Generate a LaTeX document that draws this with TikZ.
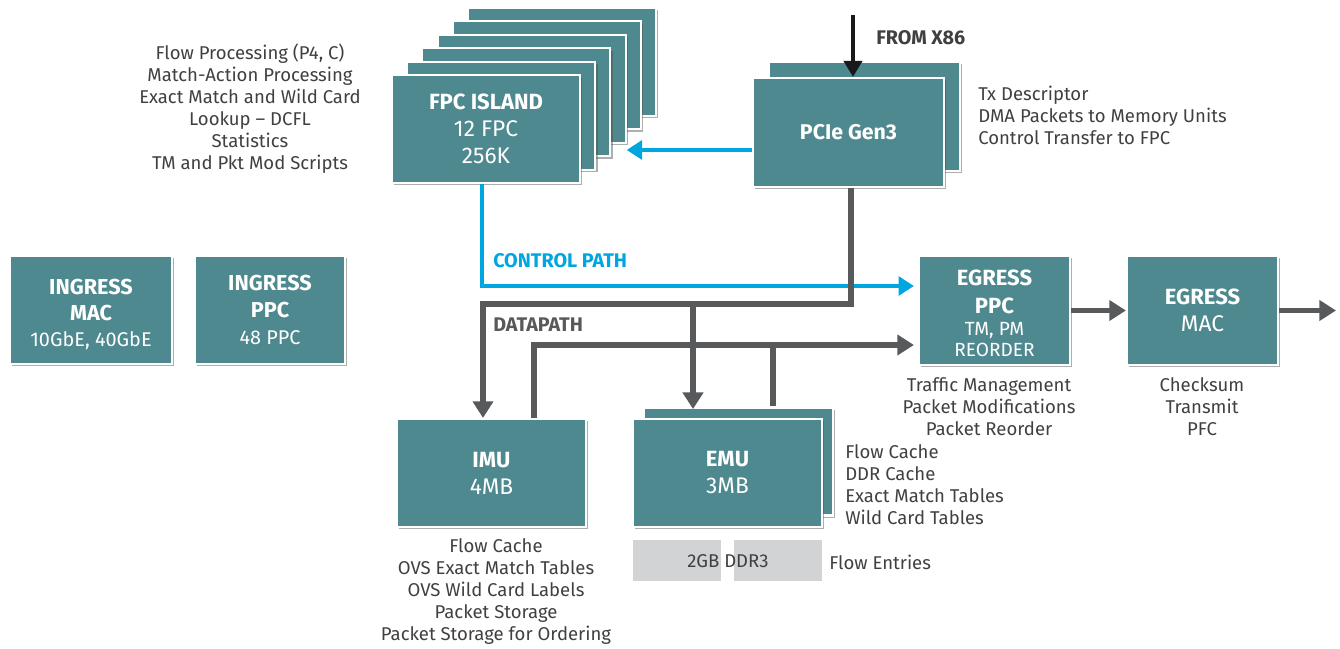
\documentclass[tikz,border=0pt]{standalone}
\usepackage{fontspec}
\setmainfont{Fira Sans}
\usetikzlibrary{shadows,arrows.meta}

\definecolor{boxteal}{RGB}{79,137,144}
\definecolor{pathgray}{RGB}{88,89,91}
\definecolor{ctrlblue}{RGB}{0,166,224}
\definecolor{bodytext}{RGB}{64,64,66}
\definecolor{memgray}{RGB}{209,211,212}

\newcommand\subline[1]{{\fontsize{17}{20}\selectfont #1}}

\tikzset{
  unit/.style={draw=white, line width=1.6pt, fill=boxteal, text=white,
    align=center, inner sep=0pt,
    font=\fontsize{16.5}{20.25}\selectfont,
    drop shadow={shadow xshift=1.8pt, shadow yshift=-1.8pt, opacity=0.45, fill=black!70}},
  unittext/.style={text=white, align=center, inner sep=0pt},
  wide/.style={minimum width=141pt, minimum height=81pt},
  memchip/.style={fill=memgray, draw=none, minimum width=66pt, minimum height=30.75pt, inner sep=0pt},
  notes/.style={text=bodytext, inner sep=0pt, font=\fontsize{13.9}{16.5}\selectfont},
  tag/.style={inner sep=0pt, font=\fontsize{14.8}{17}\selectfont\bfseries},
  datapath/.style={draw=pathgray, line width=3.9pt, line join=miter,
    -{Triangle[length=12.5pt, width=15pt]}},
  datawire/.style={draw=pathgray, line width=3.9pt, line join=miter},
  ctrlpath/.style={draw=ctrlblue, line width=3.4pt, line join=miter,
    -{Triangle[length=11.5pt, width=14pt]}},
  hostpath/.style={draw=black!90, line width=3.2pt,
    -{Triangle[length=12pt, width=13.5pt]}}
}

\begin{document}
\begin{tikzpicture}[x=0.75pt, y=-0.75pt]
\useasboundingbox (0,0) rectangle (1340,649);

% ---- ingress side ----
\node[unit, minimum width=121.5pt, minimum height=81pt] (imac) at (91,310) {};
\node[unittext, font=\fontsize{16.2}{19.5}\selectfont] (imactext) at (91,314)
  {\textbf{INGRESS}\\\textbf{MAC}\\{\fontsize{14.9}{17}\selectfont 10GbE, 40GbE}};
\node[unit, minimum width=112.5pt, minimum height=81pt, font=\fontsize{16.2}{20.5}\selectfont] (ippc) at (270,310)
  {\textbf{INGRESS}\\\textbf{PPC}\\{\fontsize{14.9}{19.5}\selectfont 48 PPC}};

% ---- FPC island stack (back to front) ----
\node[unit, wide] (fpc5) at (562,62) {};
\node[unit, wide] (fpc4) at (546.8,75.4) {};
\node[unit, wide] (fpc3) at (531.6,88.8) {};
\node[unit, wide] (fpc2) at (516.4,102.2) {};
\node[unit, wide] (fpc1) at (501.2,115.6) {};
\node[unit, wide] (fpc) at (486,129)
  {\textbf{FPC ISLAND}\\\subline{12 FPC}\\\subline{256K}};

\node[notes, align=center] (fpcnotes) at (250,108.5)
  {Flow Processing (P4, C)\\Match-Action Processing\\Exact Match and Wild Card\\
   Lookup -- DCFL\\Statistics\\TM and Pkt Mod Scripts};

% ---- PCIe ----
\node[unit, minimum width=143.25pt, minimum height=81.75pt] (pcieback) at (864.5,116.5) {};
\node[unit, minimum width=143.25pt, minimum height=81.75pt, font=\fontsize{16}{20}\selectfont] (pcie) at (848.5,132.5)
  {\textbf{PCIe Gen3}};
\node[notes, align=left, anchor=west] (pcienotes) at (978,115)
  {Tx Descriptor\\DMA Packets to Memory Units\\Control Transfer to FPC};
\node[tag, text=bodytext, anchor=west] (x86label) at (876,38) {FROM X86};

% ---- egress side ----
\node[unit, minimum width=113.25pt, minimum height=81.75pt] (eppc) at (994.5,310.5) {};
\node[unittext, font=\fontsize{16.5}{20.25}\selectfont] (eppctext) at (994.5,313.5)
  {\textbf{EGRESS}\\[0.5pt]\textbf{PPC}\\[-3.5pt]{\fontsize{14.3}{16.5}\selectfont TM, PM}\\[-4.5pt]{\fontsize{14.3}{16.5}\selectfont REORDER}};
\node[unit, minimum width=113.25pt, minimum height=81.75pt] (emac) at (1202.5,310.5)
  {\textbf{EGRESS}\\\subline{MAC}};
\node[notes, align=center] (eppcnotes) at (989,407)
  {Traffic Management\\Packet Modifications\\Packet Reorder};
\node[notes, align=center] (emacnotes) at (1202,407)
  {Checksum\\Transmit\\PFC};

% ---- memory units ----
\node[unit, minimum width=141.75pt, minimum height=81pt] (imu) at (491.5,473)
  {\textbf{IMU}\\\subline{4MB}};
\node[notes, align=center] (imunotes) at (496,591.5)
  {Flow Cache\\OVS Exact Match Tables\\OVS Wild Card Labels\\Packet Storage\\Packet Storage for Ordering};

\node[unit, minimum width=141.75pt, minimum height=81pt] (emuback) at (738.5,461.5) {};
\node[unit, minimum width=141.75pt, minimum height=81pt] (emu) at (727.5,473)
  {\textbf{EMU}\\\subline{3MB}};
\node[notes, align=left, anchor=west] (emunotes) at (845,484.5)
  {Flow Cache\\DDR Cache\\Exact Match Tables\\Wild Card Tables};

\node[memchip] (ddr1) at (677,560.5) {};
\node[memchip] (ddr2) at (778,560.5) {};
\node[notes] (ddrlabel) at (728,561) {2GB DDR3};
\node[notes, anchor=west] (flowentries) at (829,562) {Flow Entries};

% ---- path labels ----
\node[tag, text=ctrlblue, anchor=west] (ctrllabel) at (493,261) {CONTROL PATH};
\node[tag, text=pathgray, anchor=west] (datalabel) at (493,325) {DATAPATH};

% ---- helper points ----
\coordinate (x86) at (853,15);
\coordinate (fpcin) at (750,150);
\coordinate (ctrlx) at (482,0);
\coordinate (ctrly) at (0,286);
\coordinate (datax) at (851,0);
\coordinate (bus) at (483,304);
\coordinate (emux) at (693,0);
\coordinate (retx) at (534,0);
\coordinate (rety) at (0,345);
\coordinate (emuret) at (773,0);
\coordinate (out) at (1336,310.5);

% ---- host and control connections ----
\draw[hostpath] (x86) -- (x86 |- pcie.north);
\draw[ctrlpath] (fpcin -| pcie.west) -- (fpcin -| fpc3.east);
\draw[ctrlpath] (ctrlx |- fpc.south) |- ([xshift=-3pt]eppc.west |- ctrly);

% ---- datapath ----
\draw[datapath] (datax |- pcie.south) |- (bus) -- (bus |- imu.north);
\draw[datapath] (emux |- bus) -- ([yshift=-2pt]emux |- emuback.north);
\draw[datapath] (retx |- imu.north) |- ([xshift=-3pt]eppc.west |- rety);
\draw[datawire] (emuret |- emuback.north) -- (emuret |- rety);
\draw[datapath] (eppc.east) -- (emac.west);
\draw[datapath] (emac.east) -- (out);
\end{tikzpicture}
\end{document}
